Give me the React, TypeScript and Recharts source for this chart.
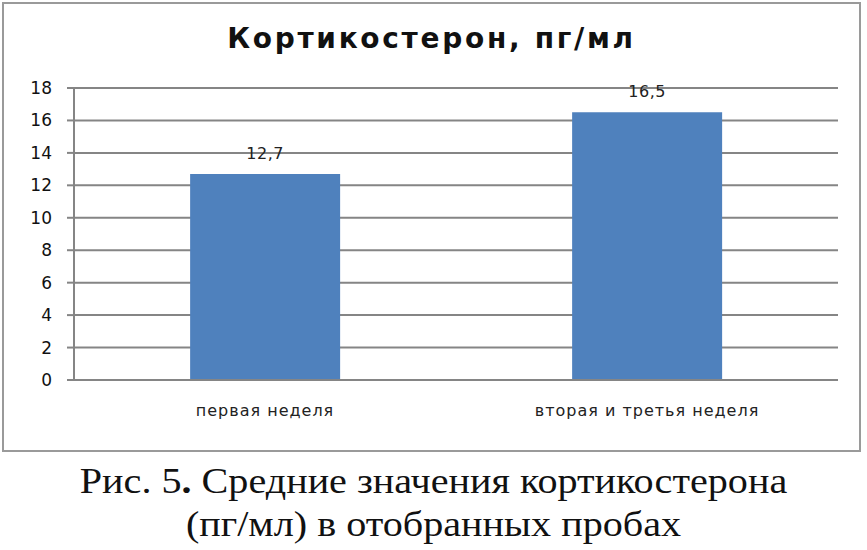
import { BarChart, Bar, XAxis, YAxis, CartesianGrid, LabelList } from 'recharts'

const categories = ['первая неделя', 'вторая и третья неделя']
const values = [12.7, 16.5]
const yTicks = [0, 2, 4, 6, 8, 10, 12, 14, 16, 18]

const data = categories.map((name, i) => ({ name, value: values[i] }))

const GRID = '#858585'

export default function App() {
  return (
    <div style={{ position: 'absolute', left: 0, top: 0, width: 867, height: 550, background: '#fff' }}>
      <div
        style={{
          position: 'absolute', left: 2, top: 2, width: 859, height: 450,
          border: '2px solid #9a9a9a', boxSizing: 'border-box', background: '#fff',
        }}
      >
        <BarChart
          width={855}
          height={446}
          data={data}
          margin={{ top: 84, right: 21, left: 0, bottom: 10 }}
          barCategoryGap="30.4%"
        >
          <CartesianGrid vertical={false} stroke={GRID} strokeWidth={2} />
          <XAxis
            dataKey="name"
            height={60}
            axisLine={{ stroke: GRID, strokeWidth: 2 }}
            tickLine={false}
            tickSize={0}
            tickMargin={25}
            tick={{ fontSize: 16, fill: '#222', fontFamily: 'DejaVu Sans', letterSpacing: 1 }}
          />
          <YAxis
            domain={[0, 18]}
            ticks={yTicks}
            interval={0}
            width={70}
            axisLine={{ stroke: GRID, strokeWidth: 2 }}
            tickLine={{ stroke: GRID, strokeWidth: 2 }}
            tickSize={7}
            tickMargin={15}
            tick={{ fontSize: 17, fill: '#111', fontFamily: 'DejaVu Sans' }}
          />
          <Bar dataKey="value" fill="#4f81bd" isAnimationActive={false}>
            <LabelList
              dataKey="value"
              position="top"
              offset={15}
              formatter={(v: any) => String(v).replace('.', ',')}
              style={{ fontSize: 16, fill: '#222', fontFamily: 'DejaVu Sans', letterSpacing: 0.5 }}
            />
          </Bar>
        </BarChart>
        <div
          style={{
            position: 'absolute', left: 0, right: 0, top: 21, textAlign: 'center',
            fontFamily: '"DejaVu Sans", sans-serif', fontWeight: 700, fontSize: 28,
            lineHeight: '28px', color: '#111', letterSpacing: 2.7,
          }}
        >
          Кортикостерон, пг/мл
        </div>
      </div>
      <div
        style={{
          position: 'absolute', left: 0, width: 867, top: 460, textAlign: 'center',
          fontFamily: '"Liberation Serif", serif', fontSize: 36, lineHeight: '43px', color: '#111',
          transform: 'scaleX(1.115)', transformOrigin: '50% 50%',
        }}
      >
        <div>Рис. 5<b>.</b> Средние значения кортикостерона</div>
        <div>(пг/мл) в отобранных пробах</div>
      </div>
    </div>
  )
}
